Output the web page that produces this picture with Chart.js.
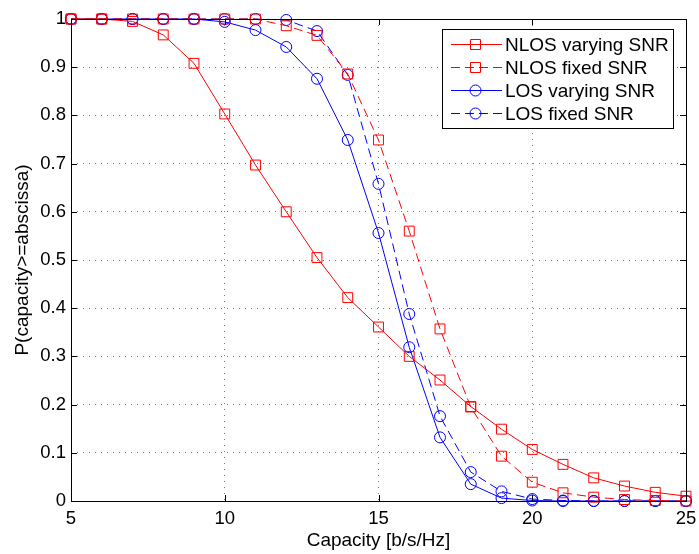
<!DOCTYPE html>
<html lang="en">
<head>
    <meta charset="UTF-8">
    <title>Capacity CCDF</title>
    <script src="https://cdn.jsdelivr.net/npm/chart.js"></script>
    <style>
        body { margin: 0; background: #ffffff; }
        .chart-box { width: 699px; height: 554px; }
    </style>
</head>
<body>
    <div class="chart-box">
        <canvas id="capChart" width="699" height="554"></canvas>
    </div>
    <script>
        // capacity values on the x axis
        const capacity = [5, 6, 7, 8, 9, 10, 11, 12, 13, 14, 15, 16, 17, 18, 19, 20, 21, 22, 23, 24, 25];

        // P(capacity >= abscissa)
        const nlosVarying = [1, 1, 0.995, 0.967, 0.908, 0.803, 0.697, 0.600, 0.505, 0.422, 0.361, 0.300, 0.251, 0.196, 0.149, 0.107, 0.076, 0.048, 0.031, 0.018, 0.010];
        const nlosFixed   = [1, 1, 1, 1, 1, 1, 1, 0.986, 0.966, 0.886, 0.749, 0.560, 0.357, 0.195, 0.093, 0.039, 0.017, 0.008, 0.003, 0.001, 0];
        const losVarying  = [1, 1, 1, 1, 1, 0.994, 0.977, 0.942, 0.876, 0.749, 0.556, 0.319, 0.132, 0.035, 0.006, 0.001, 0, 0, 0, 0, 0];
        const losFixed    = [1, 1, 1, 1, 1, 1, 1, 0.998, 0.975, 0.884, 0.658, 0.388, 0.176, 0.060, 0.020, 0.004, 0.001, 0, 0, 0, 0];

        const xTicks = [5, 10, 15, 20, 25];
        const yTicks = [0, 0.1, 0.2, 0.3, 0.4, 0.5, 0.6, 0.7, 0.8, 0.9, 1];

        const seriesNames = ['NLOS varying SNR', 'NLOS fixed SNR', 'LOS varying SNR', 'LOS fixed SNR'];

        const RED = '#ff0000';
        const BLUE = '#0000ff';
        const FONT = 'Liberation Sans, Arial, sans-serif';

        function toPoints(ys) {
            return capacity.map((x, i) => ({ x: x, y: ys[i] }));
        }

        function makeSet(label, ys, color, dashed, marker) {
            return {
                label: label,
                data: toPoints(ys),
                borderColor: color,
                backgroundColor: 'rgba(0,0,0,0)',
                borderWidth: 1,
                borderDash: dashed ? [9, 5] : [],
                pointStyle: marker,
                pointRadius: marker === 'rect' ? 7 : 5.5,
                pointBorderColor: color,
                pointBackgroundColor: 'rgba(0,0,0,0)',
                pointBorderWidth: 1,
                tension: 0,
                clip: 8
            };
        }

        // frame, inward ticks and the MATLAB style legend box
        const matlabFrame = {
            id: 'matlabFrame',
            afterDatasetsDraw(chart) {
                const { ctx, chartArea: a, scales } = chart;
                ctx.save();
                ctx.strokeStyle = '#000';
                ctx.lineWidth = 1;
                ctx.setLineDash([]);
                ctx.strokeRect(a.left + 0.5, a.top + 0.5, a.right - a.left, a.bottom - a.top);
                ctx.beginPath();
                xTicks.forEach(v => {
                    const px = Math.round(scales.x.getPixelForValue(v)) + 0.5;
                    ctx.moveTo(px, a.bottom); ctx.lineTo(px, a.bottom - 6);
                    ctx.moveTo(px, a.top); ctx.lineTo(px, a.top + 6);
                });
                yTicks.forEach(v => {
                    const py = Math.round(scales.y.getPixelForValue(v)) + 0.5;
                    ctx.moveTo(a.left, py); ctx.lineTo(a.left + 6, py);
                    ctx.moveTo(a.right, py); ctx.lineTo(a.right - 6, py);
                });
                ctx.stroke();

                // legend
                const lx = 442, ly = 29, lw = 231, lh = 99;
                ctx.fillStyle = '#fff';
                ctx.fillRect(lx, ly, lw, lh);
                ctx.strokeRect(lx + 0.5, ly + 0.5, lw, lh);
                ctx.font = '19px ' + FONT;
                ctx.textBaseline = 'middle';
                chart.data.datasets.forEach((ds, i) => {
                    const cy = ly + 15.5 + i * 23;
                    ctx.strokeStyle = ds.borderColor;
                    ctx.setLineDash(ds.borderDash);
                    ctx.beginPath();
                    ctx.moveTo(lx + 9, cy); ctx.lineTo(lx + 60, cy);
                    ctx.stroke();
                    ctx.setLineDash([]);
                    ctx.beginPath();
                    if (ds.pointStyle === 'rect') {
                        ctx.rect(lx + 28.5, cy - 5, 10, 10);
                    } else {
                        ctx.arc(lx + 33.5, cy, 5.5, 0, Math.PI * 2);
                    }
                    ctx.stroke();
                    ctx.fillStyle = '#000';
                    ctx.fillText(ds.label, lx + 63, cy + 1);
                });
                ctx.restore();
            }
        };

        const ctx = document.getElementById('capChart').getContext('2d');
        new Chart(ctx, {
            type: 'line',
            data: {
                datasets: [
                    makeSet(seriesNames[0], nlosVarying, RED, false, 'rect'),
                    makeSet(seriesNames[1], nlosFixed, RED, true, 'rect'),
                    makeSet(seriesNames[2], losVarying, BLUE, false, 'circle'),
                    makeSet(seriesNames[3], losFixed, BLUE, true, 'circle')
                ]
            },
            options: {
                responsive: false,
                animation: false,
                layout: { padding: { top: 19, right: 13, left: 0, bottom: 0 } },
                plugins: {
                    legend: { display: false },
                    tooltip: { enabled: false }
                },
                scales: {
                    x: {
                        type: 'linear',
                        min: 5,
                        max: 25,
                        afterBuildTicks: axis => { axis.ticks = xTicks.map(v => ({ value: v })); },
                        afterFit: axis => {
                            axis.height = 53;
                            axis.paddingLeft = 0;
                            axis.paddingRight = 0;
                        },
                        grid: {
                            color: '#777',
                            lineWidth: 1,
                            drawTicks: false
                        },
                        border: { display: false, dash: [1, 5] },
                        ticks: {
                            color: '#000',
                            padding: 7,
                            font: { family: FONT, size: 18.5 }
                        },
                        title: {
                            display: true,
                            text: 'Capacity [b/s/Hz]',
                            color: '#000',
                            padding: { top: 0, bottom: 2 },
                            font: { family: FONT, size: 19 }
                        }
                    },
                    y: {
                        type: 'linear',
                        min: 0,
                        max: 1,
                        afterBuildTicks: axis => { axis.ticks = yTicks.map(v => ({ value: v })); },
                        afterFit: axis => {
                            axis.width = 71;
                            axis.paddingTop = 0;
                            axis.paddingBottom = 0;
                        },
                        grid: {
                            color: '#777',
                            lineWidth: 1,
                            drawTicks: false
                        },
                        border: { display: false, dash: [1, 5] },
                        ticks: {
                            color: '#000',
                            padding: 5,
                            font: { family: FONT, size: 18.5 },
                            callback: v => String(v)
                        },
                        title: {
                            display: true,
                            text: 'P(capacity>=abscissa)',
                            color: '#000',
                            padding: { top: 11, bottom: 0 },
                            font: { family: FONT, size: 19 }
                        }
                    }
                }
            },
            plugins: [matlabFrame]
        });
    </script>
</body>
</html>
